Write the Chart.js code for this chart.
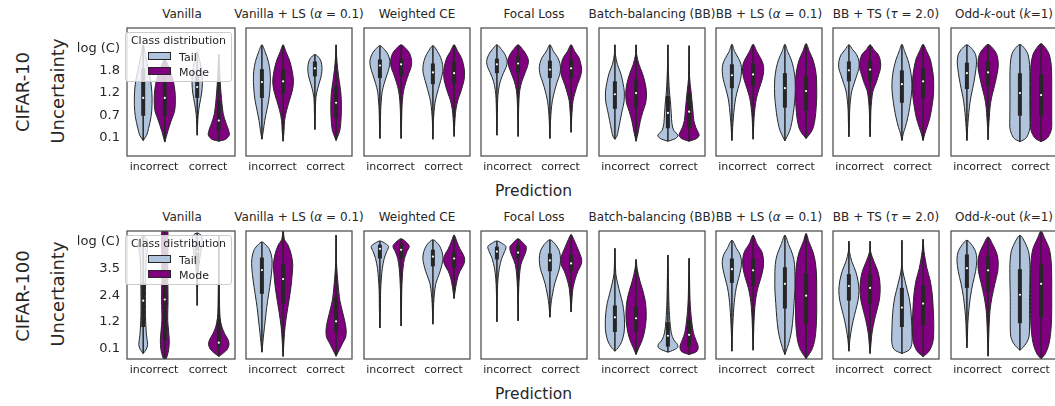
<!DOCTYPE html>
<html>
<head>
<meta charset="utf-8">
<script src="https://cdn.jsdelivr.net/npm/chart.js@4.4.0/dist/chart.umd.min.js"></script>
<style>
  body { margin: 0; background: #fff; overflow: hidden; font-family: 'DejaVu Sans', sans-serif; color: #262626; }
  #fig { position: relative; width: 1055px; height: 406px; overflow: hidden; }
  #fig canvas { position: absolute; }
  .lbl { position: absolute; white-space: nowrap; transform: translate(-50%, -50%); line-height: normal; }
  .rot { transform: translate(-50%, -50%) rotate(-90deg); }
  .legend { position: absolute; width: 107px; height: 50px; box-sizing: border-box; border: 1px solid #cccccc;
            border-radius: 3px; background: rgba(255, 255, 255, 0.8); font-size: 11px; }
  .legend .sw { position: absolute; left: 22px; width: 23px; height: 8px; box-sizing: border-box; border: 1px solid #262626; }
  .legend .tx { position: absolute; left: 53px; transform: translateY(-50%); }
</style>
</head>
<body>
<div id="fig"></div>
<script>
// Panel titles, categories and hues
const methods = ['Vanilla', 'Vanilla + LS (<i>α</i> = 0.1)', 'Weighted CE', 'Focal Loss',
  'Batch-balancing (BB)', 'BB + LS (<i>α</i> = 0.1)', 'BB + TS (<i>τ</i> = 2.0)', 'Odd-<i>k</i>-out (<i>k</i>=1)'];
const predictions = ['incorrect', 'correct'];
const hues = ['Tail', 'Mode'];
const rowNames = ['CIFAR-10', 'CIFAR-100'];

// Y ticks (entropy, nats)
const c10Ticks = [0.1, 0.65, 1.2, 1.75, 2.303];
const c10TickLabels = ['0.1', '0.7', '1.2', '1.8', 'log (C)'];
const c100Ticks = [0.1, 1.226, 2.353, 3.479, 4.605];
const c100TickLabels = ['0.1', '1.2', '2.4', '3.5', 'log (C)'];
const c10Range = [-0.354, 2.806];
const c100Range = [-0.34, 5.06];

// Violin outlines: [uncertainty, relative density] per method, [incorrect, correct]
const c10Tail = [
  [[[0.03,0],[0.16,.32],[0.33,.5],[0.62,.73],[0.91,.82],[1.23,.8],[1.52,.68],[1.81,.45],[2.10,.23],[2.39,0]],
   [[0.16,0],[0.42,.04],[0.67,.09],[0.93,.23],[1.20,.41],[1.44,.48],[1.71,.44],[1.955,.27],[2.22,0]]],
  [[[0.06,0],[0.28,.14],[0.52,.27],[0.76,.45],[1.01,.64],[1.25,.75],[1.49,.8],[1.74,.77],[1.98,.61],[2.22,.3],[2.39,0]],
   [[0.30,0],[0.76,.05],[1.08,.09],[1.32,.27],[1.57,.55],[1.74,.66],[1.91,.64],[2.05,.45],[2.15,0]]],
  [[[0.08,0],[0.52,.05],[0.76,.07],[0.98,.12],[1.23,.21],[1.44,.41],[1.66,.68],[1.81,.86],[1.98,.95],[2.15,.77],[2.27,.45],[2.37,0]],
   [[0.06,0],[0.52,.05],[0.74,.11],[0.98,.21],[1.20,.41],[1.42,.64],[1.59,.82],[1.74,.94],[1.91,.91],[2.08,.73],[2.22,.45],[2.37,0]]],
  [[[0.16,0],[0.52,.03],[0.81,.05],[1.06,.08],[1.27,.15],[1.49,.32],[1.71,.64],[1.83,.86],[1.98,.97],[2.15,.77],[2.27,.45],[2.39,0]],
   [[0.08,0],[0.52,.06],[0.76,.12],[1.01,.23],[1.25,.44],[1.47,.68],[1.64,.91],[1.78,1],[1.93,.95],[2.08,.73],[2.22,.36],[2.39,0]]],
  [[[0.06,0],[0.13,.18],[0.28,.32],[0.52,.5],[0.76,.68],[0.98,.86],[1.23,.89],[1.44,.77],[1.69,.55],[1.91,.23],[2.15,.05],[2.39,0]],
   [[0.01,0],[0.08,.73],[0.16,.95],[0.28,.55],[0.45,.38],[0.69,.32],[1.01,.23],[1.25,.14],[1.74,.05],[2.39,0]]],
  [[[0.03,0],[0.35,.07],[0.59,.14],[0.84,.23],[1.08,.36],[1.32,.59],[1.54,.82],[1.74,.91],[1.91,.86],[2.05,.64],[2.22,.27],[2.40,0]],
   [[0.02,0],[0.21,.36],[0.35,.55],[0.59,.73],[0.84,.86],[1.08,.95],[1.32,.98],[1.57,.95],[1.81,.82],[2.03,.59],[2.22,.27],[2.40,0]]],
  [[[0.12,0],[0.52,.05],[0.76,.07],[1.01,.14],[1.25,.27],[1.44,.5],[1.66,.77],[1.81,.95],[1.98,.95],[2.15,.73],[2.27,.36],[2.39,0]],
   [[0.03,0],[0.21,.14],[0.35,.32],[0.59,.55],[0.84,.73],[1.08,.86],[1.32,.94],[1.57,.91],[1.81,.77],[2.03,.55],[2.22,.27],[2.40,0]]],
  [[[0.03,0],[0.35,.07],[0.59,.14],[0.84,.23],[1.08,.36],[1.32,.55],[1.57,.73],[1.81,.86],[1.98,.91],[2.15,.82],[2.27,.55],[2.39,0]],
   [[0,0],[0.08,.55],[0.21,.82],[0.35,.95],[0.59,.95],[0.93,.94],[1.25,.94],[1.57,.94],[1.91,.91],[2.15,.77],[2.30,.45],[2.40,0]]]
];
const c10Mode = [
  [[[-0.01,0],[0.25,.27],[0.50,.57],[0.76,.91],[1.01,.98],[1.25,.94],[1.52,.77],[1.785,.45],[2.03,0]],
   [[0.01,0],[0.06,.64],[0.16,.97],[0.28,.91],[0.45,.68],[0.69,.41],[1.18,.21],[1.66,.09],[2.15,0]]],
  [[[0.01,0],[0.28,.09],[0.52,.14],[0.76,.32],[1.01,.59],[1.25,.86],[1.49,.98],[1.74,.86],[1.98,.64],[2.22,.27],[2.39,0]],
   [[0.03,0],[0.21,.27],[0.33,.39],[0.62,.48],[0.91,.5],[1.20,.45],[1.49,.3],[1.81,.14],[2.10,.05],[2.39,0]]],
  [[[0.08,0],[0.52,.05],[0.76,.07],[1.01,.12],[1.25,.23],[1.47,.45],[1.69,.73],[1.81,.91],[1.98,1],[2.17,.82],[2.30,.45],[2.39,0]],
   [[0.13,0],[0.35,.04],[0.57,.09],[0.81,.18],[1.03,.36],[1.20,.59],[1.35,.77],[1.54,.95],[1.74,.98],[1.93,.86],[2.08,.68],[2.22,.36],[2.39,0]]],
  [[[0.13,0],[0.52,.03],[0.81,.05],[1.06,.09],[1.27,.16],[1.49,.36],[1.71,.68],[1.86,.89],[2.00,.98],[2.15,.77],[2.27,.45],[2.39,0]],
   [[0.23,0],[0.57,.05],[0.81,.11],[1.01,.18],[1.20,.36],[1.40,.59],[1.59,.86],[1.76,1],[1.93,.91],[2.08,.73],[2.22,.36],[2.39,0]]],
  [[[0.01,0],[0.25,.21],[0.50,.39],[0.74,.64],[0.96,.91],[1.20,.98],[1.44,.86],[1.69,.59],[1.91,.27],[2.15,.05],[2.39,0]],
   [[0.01,0],[0.08,.73],[0.16,.95],[0.23,.86],[0.35,.64],[0.52,.45],[0.76,.36],[1.01,.27],[1.25,.18],[1.57,.05],[2.37,0]]],
  [[[0.06,0],[0.35,.05],[0.59,.09],[0.84,.18],[1.08,.32],[1.32,.59],[1.54,.86],[1.74,1],[1.91,.95],[2.05,.73],[2.22,.36],[2.40,0]],
   [[0.08,0],[0.21,.41],[0.35,.68],[0.59,.86],[0.84,.95],[1.08,1],[1.32,1],[1.57,.98],[1.81,.86],[2.03,.64],[2.22,.32],[2.42,0]]],
  [[[0.12,0],[0.52,.05],[0.76,.07],[1.01,.14],[1.25,.27],[1.44,.55],[1.66,.82],[1.81,.98],[1.98,.98],[2.15,.77],[2.27,.36],[2.39,0]],
   [[0.03,0],[0.21,.18],[0.35,.36],[0.59,.64],[0.84,.82],[1.08,.95],[1.32,1],[1.57,.98],[1.81,.86],[2.03,.68],[2.22,.36],[2.40,0]]],
  [[[0.05,0],[0.35,.05],[0.59,.11],[0.84,.18],[1.08,.32],[1.32,.55],[1.57,.77],[1.81,.94],[1.98,.95],[2.15,.82],[2.27,.55],[2.40,0]],
   [[0,0],[0.08,.55],[0.21,.86],[0.35,1],[0.59,1],[0.93,1],[1.25,1],[1.57,1],[1.91,.95],[2.15,.77],[2.30,.45],[2.42,0]]]
];
const c100Tail = [
  [[[-0.11,0],[0.06,.27],[0.27,.41],[0.68,.3],[1.50,.21],[2.54,.21],[3.57,.25],[4.11,.32],[4.48,.45],[4.69,.36],[4.85,0]],
   [[1.92,0],[2.74,.04],[3.36,.09],[3.86,.23],[4.27,.36],[4.60,.45],[4.85,.41],[4.98,0]]],
  [[[-0.05,0],[0.35,.09],[0.76,.18],[1.30,.32],[1.83,.45],[2.41,.64],[2.95,.82],[3.49,.95],[3.90,.95],[4.27,.73],[4.48,.36],[4.60,0]],
   null],
  [[[0.97,0],[1.83,.05],[2.54,.07],[3.07,.14],[3.49,.23],[3.90,.41],[4.19,.64],[4.40,.82],[4.52,.55],[4.64,0]],
   [[1.13,0],[2.00,.07],[2.41,.14],[2.83,.27],[3.07,.45],[3.36,.68],[3.65,.86],[3.90,.95],[4.19,.86],[4.48,.55],[4.69,0]]],
  [[[1.23,0],[2.54,.05],[3.07,.11],[3.49,.23],[3.90,.45],[4.19,.73],[4.40,.86],[4.52,.55],[4.64,0]],
   [[1.42,0],[1.83,.07],[2.12,.14],[2.45,.27],[2.83,.45],[3.16,.68],[3.49,.91],[3.86,1],[4.19,.91],[4.48,.55],[4.69,0]]],
  [[[-0.01,0],[0.14,.32],[0.39,.64],[0.76,.86],[1.17,.91],[1.59,.86],[2.00,.73],[2.41,.5],[2.83,.27],[3.24,.09],[4.33,0]],
   [[-0.05,0],[0.02,.45],[0.14,.91],[0.27,.91],[0.47,.55],[0.76,.32],[1.30,.18],[2.12,.09],[4.05,0]]],
  [[[-0.01,0],[0.76,.05],[1.42,.12],[1.83,.18],[2.25,.27],[2.66,.41],[3.07,.64],[3.49,.86],[3.78,.91],[4.07,.77],[4.31,.45],[4.67,0]],
   [[-0.15,0],[0.14,.23],[0.47,.45],[0.88,.64],[1.42,.77],[2.00,.86],[2.54,.94],[3.07,.95],[3.65,.91],[4.07,.73],[4.48,.36],[4.88,0]]],
  [[[-0.01,0],[0.47,.09],[0.88,.23],[1.30,.41],[1.71,.64],[2.12,.86],[2.54,.95],[2.95,.86],[3.36,.64],[3.78,.27],[4.19,.05],[4.63,0]],
   [[-0.11,0],[0.06,.73],[0.35,.95],[0.76,.95],[1.30,.91],[1.83,.82],[2.25,.68],[2.83,.36],[3.49,.05],[4.67,0]]],
  [[[0.13,0],[0.60,.05],[1.17,.09],[1.71,.18],[2.25,.32],[2.83,.55],[3.36,.82],[3.86,.94],[4.19,.82],[4.48,.45],[4.67,0]],
   [[0.03,0],[0.14,.27],[0.35,.64],[0.60,.86],[1.01,.91],[1.59,.91],[2.25,.91],[2.95,.94],[3.65,.94],[4.19,.82],[4.60,.45],[4.88,0]]]
];
const c100Mode = [
  [[[-0.44,0],[-0.27,.18],[0.06,.36],[0.47,.41],[1.30,.27],[2.12,.3],[3.36,.27],[4.60,.3],[5.35,.23],[5.5,0]],
   [[-0.23,0],[-0.11,.36],[0.06,.77],[0.27,.95],[0.47,.86],[0.72,.55],[0.97,.32],[1.21,.18],[1.59,.09],[2.95,.04],[4.89,0]]],
  [[[-0.23,0],[0.47,.09],[1.01,.18],[1.59,.36],[2.12,.55],[2.66,.73],[3.24,.86],[3.65,.91],[4.07,.77],[4.48,.45],[4.69,.14],[5.06,0]],
   [[-0.22,0],[0.06,.32],[0.35,.64],[0.59,.91],[0.88,.95],[1.17,.86],[1.59,.64],[2.12,.36],[2.83,.18],[3.70,.04],[4.89,0]]],
  [[[1.05,0],[1.83,.04],[2.54,.06],[3.07,.11],[3.49,.18],[3.90,.32],[4.19,.55],[4.40,.77],[4.52,.64],[4.73,0]],
   [[2.21,0],[2.66,.14],[3.07,.32],[3.36,.55],[3.65,.91],[3.86,1],[4.07,.86],[4.31,.55],[4.60,.27],[4.89,0]]],
  [[[1.27,0],[2.66,.06],[3.24,.14],[3.65,.27],[3.98,.55],[4.19,.73],[4.40,.77],[4.52,.55],[4.73,0]],
   [[1.64,0],[2.25,.09],[2.66,.18],[3.07,.41],[3.36,.64],[3.65,.95],[3.86,1],[4.11,.82],[4.40,.55],[4.69,.27],[4.91,0]]],
  [[[-0.15,0],[0.14,.27],[0.47,.59],[0.88,.82],[1.30,.94],[1.71,.95],[2.12,.86],[2.54,.64],[2.95,.36],[3.49,.09],[3.86,0]],
   [[-0.15,0],[-0.02,.73],[0.18,.86],[0.47,.64],[0.76,.41],[1.30,.23],[2.12,.09],[3.91,0]]],
  [[[0.03,0],[0.76,.05],[1.30,.09],[1.83,.16],[2.25,.27],[2.66,.45],[3.07,.73],[3.49,.95],[3.86,.98],[4.19,.82],[4.52,.36],[4.88,0]],
   [[-0.33,0],[0.06,.55],[0.47,.82],[1.01,.95],[1.59,1],[2.12,1],[2.66,1],[3.24,.98],[3.78,.86],[4.19,.64],[4.60,.27],[4.95,0]]],
  [[[-0.11,0],[0.35,.09],[0.76,.18],[1.30,.41],[1.71,.64],[2.12,.86],[2.54,.95],[2.95,.91],[3.36,.73],[3.78,.36],[4.19,.05],[4.63,0]],
   [[-0.24,0],[-0.02,.55],[0.35,.91],[0.76,1],[1.30,1],[1.83,.95],[2.41,.86],[2.95,.68],[3.49,.36],[4.19,.09],[4.71,0]]],
  [[[-0.22,0],[0.47,.05],[1.01,.09],[1.71,.18],[2.25,.36],[2.83,.64],[3.36,.91],[3.78,.95],[4.11,.82],[4.48,.45],[4.81,0]],
   [[-0.33,0],[-0.15,.36],[0.14,.64],[0.47,.82],[1.01,.95],[1.71,1],[2.41,1],[3.07,1],[3.78,.95],[4.31,.77],[4.73,.36],[5.05,0]]]
];

// Inner boxes: [whisker low, q1, median, q3, whisker high] per method, [incorrect, correct]
const c10TailBox = [
  [[0.03, 0.64, 1.08, 1.81, 2.39], [0.16, 1.08, 1.35, 1.61, 2.22]],
  [[0.06, 1.08, 1.47, 1.79, 2.39], [0.30, 1.61, 1.81, 1.98, 2.15]],
  [[0.08, 1.57, 1.88, 2.03, 2.37], [0.06, 1.42, 1.71, 1.93, 2.37]],
  [[0.16, 1.69, 1.91, 2.05, 2.39], [0.08, 1.57, 1.78, 2.00, 2.39]],
  [[0.06, 0.81, 1.17, 1.49, 2.39], [0.01, 0.33, 0.71, 1.13, 2.39]],
  [[0.03, 1.32, 1.64, 1.91, 2.40], [0.02, 0.84, 1.32, 1.69, 2.40]],
  [[0.12, 1.49, 1.76, 1.98, 2.39], [0.03, 0.96, 1.42, 1.76, 2.40]],
  [[0.03, 1.30, 1.69, 1.95, 2.39], [0.00, 0.64, 1.20, 1.69, 2.40]]
];
const c10ModeBox = [
  [[-0.01, 0.64, 1.08, 1.61, 2.03], [0.01, 0.28, 0.52, 1.01, 2.15]],
  [[0.01, 1.18, 1.49, 1.79, 2.39], [0.03, 0.59, 0.96, 1.37, 2.39]],
  [[0.08, 1.61, 1.91, 2.05, 2.39], [0.13, 1.42, 1.69, 1.98, 2.39]],
  [[0.13, 1.71, 1.93, 2.10, 2.39], [0.23, 1.57, 1.81, 2.03, 2.39]],
  [[0.01, 0.84, 1.20, 1.54, 2.39], [0.01, 0.33, 0.74, 1.18, 2.37]],
  [[0.06, 1.37, 1.66, 1.93, 2.40], [0.08, 0.76, 1.25, 1.61, 2.42]],
  [[0.12, 1.49, 1.78, 2.00, 2.39], [0.03, 1.08, 1.49, 1.81, 2.40]],
  [[0.05, 1.37, 1.71, 1.98, 2.40], [0.00, 0.64, 1.15, 1.66, 2.42]]
];
const c100TailBox = [
  [[-0.11, 1.01, 2.12, 2.87, 4.85], [1.92, 3.65, 4.19, 4.60, 4.98]],
  [[-0.05, 2.41, 3.41, 3.94, 4.60], null],
  [[0.97, 3.90, 4.31, 4.48, 4.64], [1.13, 3.57, 3.98, 4.27, 4.69]],
  [[1.23, 3.86, 4.19, 4.40, 4.64], [1.42, 3.36, 3.82, 4.11, 4.69]],
  [[-0.01, 0.80, 1.42, 1.92, 4.33], [-0.05, 0.18, 0.64, 1.21, 4.05]],
  [[-0.01, 2.87, 3.45, 3.90, 4.67], [-0.15, 1.79, 2.83, 3.53, 4.88]],
  [[-0.01, 2.12, 2.74, 3.24, 4.63], [-0.11, 1.01, 1.83, 2.66, 4.67]],
  [[0.13, 2.66, 3.49, 4.07, 4.67], [0.03, 1.17, 2.37, 3.45, 4.88]]
];
const c100ModeBox = [
  [[-0.44, 0.47, 2.17, 3.00, 5.06], [-0.23, 0.18, 0.35, 1.30, 4.89]],
  [[-0.23, 2.00, 3.03, 3.65, 5.06], [-0.22, 0.80, 1.25, 2.25, 4.89]],
  [[1.05, 3.90, 4.27, 4.52, 4.73], [2.21, 3.49, 3.90, 4.19, 4.89]],
  [[1.27, 3.90, 4.15, 4.48, 4.73], [1.64, 3.36, 3.69, 4.07, 4.91]],
  [[-0.15, 0.80, 1.38, 1.88, 3.86], [-0.15, 0.18, 0.68, 1.30, 3.91]],
  [[0.03, 2.74, 3.40, 3.90, 4.88], [-0.33, 1.17, 2.33, 3.28, 4.95]],
  [[-0.11, 2.00, 2.66, 3.24, 4.63], [-0.24, 1.09, 2.00, 2.78, 4.71]],
  [[-0.22, 2.50, 3.40, 3.98, 4.81], [-0.33, 1.42, 2.83, 3.65, 5.05]]
];

// Layout
const hueFill = ['#b0c4de', '#800080'];
const hueOffset = [-0.2, 0.2];
const halfMax = 0.2;
const edge = '#262626';
const panelX = [127, 244, 362, 479, 597, 714, 831, 949];
const panelW = 110, panelH = 130, axisW = 50, xAxisH = 22, pad = 2;
const rowTop = [26, 229];
const rowShift = 203;

const rows = [
  { shapes: [c10Tail, c10Mode], boxes: [c10TailBox, c10ModeBox], ticks: c10Ticks, labels: c10TickLabels, range: c10Range },
  { shapes: [c100Tail, c100Mode], boxes: [c100TailBox, c100ModeBox], ticks: c100Ticks, labels: c100TickLabels, range: c100Range }
];

const fig = document.getElementById('fig');

function addLabel(html, cx, cy, size, rotate) {
  const d = document.createElement('div');
  d.className = 'lbl' + (rotate ? ' rot' : '');
  d.style.left = cx + 'px';
  d.style.top = cy + 'px';
  d.style.fontSize = size + 'px';
  d.innerHTML = html;
  fig.appendChild(d);
}

// closed outline: left edge bottom->top, right edge top->bottom
function violinPoints(knots, center) {
  const left = knots.map(([v, f]) => ({ x: center - f * halfMax, y: v }));
  const right = knots.slice(0, -1).reverse().map(([v, f]) => ({ x: center + f * halfMax, y: v }));
  return left.concat(right);
}

const framePlugin = {
  id: 'frame',
  afterDatasetsDraw(chart) {
    const { ctx, chartArea: a } = chart;
    ctx.save();
    ctx.strokeStyle = '#4d4d4d';
    ctx.lineWidth = 1.25;
    ctx.strokeRect(a.left, a.top, a.right - a.left, a.bottom - a.top);
    ctx.restore();
  }
};

function noPad(s) {
  s.paddingLeft = 0; s.paddingRight = 0; s.paddingTop = 0; s.paddingBottom = 0;
}

rows.forEach((row, r) => {
  methods.forEach((title, m) => {
    const datasets = [];
    predictions.forEach((pred, p) => {
      hues.forEach((hue, h) => {
        const knots = row.shapes[h][m][p];
        const box = row.boxes[h][m][p];
        if (!knots) return;
        const c = p + hueOffset[h];
        datasets.push({
          label: hue, data: violinPoints(knots, c), showLine: true, fill: 'shape',
          backgroundColor: hueFill[h], borderColor: edge, borderWidth: 1,
          pointRadius: 0, tension: 0.3, order: 3
        });
        datasets.push({
          data: [{ x: c, y: box[0] }, { x: c, y: box[4] }], showLine: true,
          borderColor: edge, borderWidth: 1.5, pointRadius: 0, order: 2
        });
        datasets.push({
          data: [{ x: c, y: box[1] }, { x: c, y: box[3] }], showLine: true,
          borderColor: edge, borderWidth: 4, borderCapStyle: 'butt', pointRadius: 0, order: 1
        });
        datasets.push({
          data: [{ x: c, y: box[2] }], showLine: false, pointRadius: 1.1,
          pointBackgroundColor: '#ffffff', pointBorderWidth: 0, order: 0
        });
      });
    });

    const first = m === 0;
    const yW = first ? axisW : 0;
    const canvas = document.createElement('canvas');
    const w = panelW + 2 * pad + yW;
    const hgt = panelH + pad + xAxisH;
    canvas.width = w;
    canvas.height = hgt;
    canvas.style.width = w + 'px';
    canvas.style.height = hgt + 'px';
    canvas.style.left = (panelX[m] - pad - yW) + 'px';
    canvas.style.top = (rowTop[r] - pad) + 'px';
    fig.appendChild(canvas);

    new Chart(canvas, {
      type: 'scatter',
      data: { datasets },
      options: {
        responsive: false,
        animation: false,
        devicePixelRatio: 1,
        events: [],
        layout: { padding: { left: pad, right: pad, top: pad, bottom: 0 } },
        plugins: { legend: { display: false }, tooltip: { enabled: false } },
        scales: {
          x: {
            type: 'linear', min: -0.5, max: 1.5,
            grid: { display: false, drawTicks: false },
            border: { display: false },
            afterBuildTicks: (s) => { s.ticks = predictions.map((_, i) => ({ value: i })); },
            afterFit: (s) => { s.height = xAxisH; noPad(s); },
            ticks: {
              callback: (v) => predictions[v], autoSkip: false, maxRotation: 0,
              padding: 5, color: '#262626', font: { family: 'DejaVu Sans', size: 11 }
            }
          },
          y: {
            type: 'linear', min: row.range[0], max: row.range[1], display: first,
            grid: { display: false, drawTicks: false },
            border: { display: false },
            afterBuildTicks: (s) => { s.ticks = row.ticks.map((v) => ({ value: v })); },
            afterFit: (s) => { s.width = yW; noPad(s); },
            ticks: {
              callback: (v, i) => row.labels[i], autoSkip: false,
              padding: 7, color: '#262626', font: { family: 'DejaVu Sans', size: 13 }
            }
          }
        }
      },
      plugins: [framePlugin]
    });

    addLabel(title, panelX[m] + panelW / 2, 14.3 + r * rowShift, 12);
  });

  addLabel(rowNames[r], 21.7, 91.5 + r * 204.3, 18, true);
  addLabel('Uncertainty', 56.5, 90.8 + r * 203.4, 18, true);
  addLabel('Prediction', 533.5, 190.6 + r * rowShift, 15.5);

  // legend
  const lg = document.createElement('div');
  lg.className = 'legend';
  lg.style.left = '125px';
  lg.style.top = (32 + r * rowShift) + 'px';
  let html = '<div style="position:absolute;left:0;right:0;top:1px;text-align:center">Class distribution</div>';
  hues.forEach((hue, h) => {
    html += '<div class="sw" style="top:' + (19 + 15 * h) + 'px;background:' + hueFill[h] + '"></div>';
    html += '<div class="tx" style="top:' + (23.5 + 15 * h) + 'px">' + hue + '</div>';
  });
  lg.innerHTML = html;
  fig.appendChild(lg);
});
</script>
</body>
</html>
